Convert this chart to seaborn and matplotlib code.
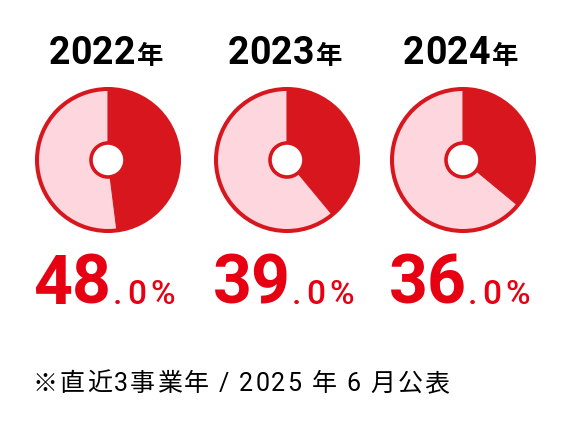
import matplotlib
matplotlib.use("Agg")
import matplotlib.pyplot as plt
import seaborn as sns
from matplotlib.offsetbox import TextArea, HPacker, AnnotationBbox
from matplotlib.patches import Circle

# data
years = ["2022", "2023", "2024"]
shares = [48.0, 39.0, 36.0]
note = "※直近3事業年 / 2025 年 6 月公表"

sns.set_theme(style="white")
plt.rcParams['font.family'] = ['Roboto', 'Noto Sans CJK JP', 'DejaVu Sans']

DARK = "#d7171d"
LIGHT = "#fdd6de"
TXT_RED = "#e60012"
W, H = 568, 426

fig = plt.figure(figsize=(5.68, 4.26), dpi=100)
ax = fig.add_axes([0, 0, 1, 1])


def Y(y):
    return H - y


def group(text, track, **props):
    # one run of text with extra letter spacing (points)
    boxes = [TextArea(ch, textprops=props) for ch in text]
    return HPacker(children=boxes, align="baseline", pad=0, sep=track)


def place(x, y, groups, sep=0, halign=0.5):
    pack = HPacker(children=groups, align="baseline", pad=0, sep=sep)
    ab = AnnotationBbox(pack, (x, Y(y)), frameon=False, box_alignment=(halign, 0.5), pad=0)
    ax.add_artist(ab)


centers_x = [108, 287, 463]
cy, r, hole = 160, 71, 17

for cx, year, pct in zip(centers_x, years, shares):
    ax.pie([pct, 100 - pct], colors=[DARK, LIGHT], startangle=90, counterclock=False,
           center=(cx, Y(cy)), radius=r, wedgeprops=dict(edgecolor=DARK, linewidth=0.8))
    ax.add_patch(Circle((cx, Y(cy)), r, fill=False, edgecolor=DARK, lw=2.9, zorder=4))
    ax.add_patch(Circle((cx, Y(cy)), hole, facecolor='white', edgecolor=DARK, lw=2.6, zorder=5))

    place(cx - 2, 54, [
        group(year, 0.3, fontsize=27, fontweight='bold', family='Roboto', color='black'),
        group("年", 0, fontsize=19, fontweight='bold', family='Noto Sans CJK JP', color='black'),
    ], sep=1.5)

    whole, dec = f"{pct:.1f}".split(".")
    place(cx - 4, 285, [
        group(whole, -0.8, fontsize=49, fontweight='bold', family='Roboto', color=TXT_RED),
        group("." + dec + "%", 3, fontsize=24, fontweight='medium', family='Roboto', color=TXT_RED),
    ], sep=2)

place(33, 384, [group(note, 1.4, fontsize=18, family=['Roboto', 'Noto Sans CJK JP'], color='black')],
      halign=0)

ax.set_xlim(0, W)
ax.set_ylim(0, H)
ax.axis('off')

fig.savefig("out.png", dpi=100)
